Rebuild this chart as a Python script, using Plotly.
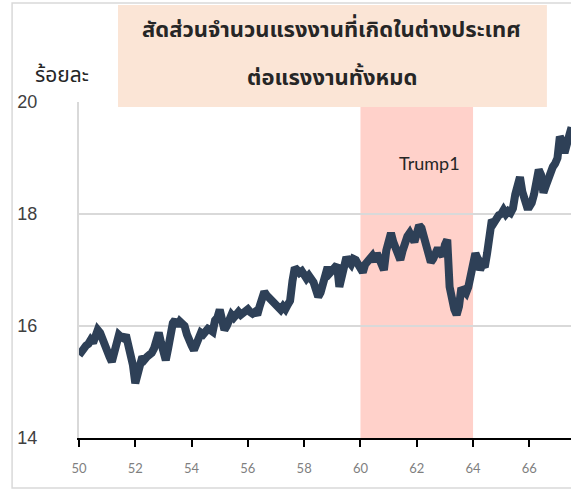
"""
Share of foreign-born workers in the labour force (Thai chart).
"""

import plotly.graph_objects as go

# monthly values, one row per (Thai) year 50..67
start_year = 50
share_by_year = [
    [15.48, 15.55, 15.60, 15.65, 15.68, 15.75, 15.70, 15.85, 15.93, 15.88, 15.75, 15.62],
    [15.55, 15.45, 15.36, 15.50, 15.65, 15.84, 15.80, 15.78, 15.84, 15.70, 15.52, 15.30],
    [14.98, 15.10, 15.30, 15.45, 15.40, 15.45, 15.48, 15.52, 15.60, 15.75, 15.88, 15.70],
    [15.50, 15.39, 15.60, 15.85, 16.05, 16.11, 16.00, 16.08, 16.05, 16.00, 15.85, 15.70],
    [15.65, 15.57, 15.70, 15.80, 15.88, 15.85, 15.90, 15.95, 15.93, 15.90, 16.10, 16.15],
    [16.29, 16.05, 15.93, 16.00, 16.15, 16.20, 16.15, 16.22, 16.25, 16.20, 16.25, 16.29],
    [16.30, 16.25, 16.22, 16.25, 16.20, 16.35, 16.45, 16.61, 16.55, 16.50, 16.46, 16.40],
    [16.35, 16.32, 16.29, 16.35, 16.30, 16.38, 16.45, 16.80, 17.04, 17.00, 16.95, 16.98],
    [16.92, 16.85, 16.90, 16.86, 16.78, 16.65, 16.52, 16.60, 16.80, 16.95, 17.05, 16.95],
    [17.00, 17.05, 17.09, 16.70, 16.90, 17.00, 17.23, 17.15, 17.10, 17.20, 17.18, 17.10],
    [17.05, 16.96, 17.10, 17.15, 17.20, 17.25, 17.15, 17.30, 17.20, 17.05, 17.00, 17.35],
    [17.55, 17.66, 17.50, 17.40, 17.25, 17.18, 17.35, 17.50, 17.60, 17.66, 17.55, 17.50],
    [17.65, 17.80, 17.75, 17.60, 17.45, 17.30, 17.14, 17.20, 17.30, 17.39, 17.30, 17.25],
    [17.45, 17.54, 16.70, 16.45, 16.30, 16.20, 16.35, 16.68, 16.62, 16.59, 16.70, 16.90],
    [17.10, 17.30, 17.20, 17.00, 17.10, 17.05, 17.30, 17.60, 17.89, 17.85, 17.95, 17.98],
    [18.00, 18.07, 18.00, 18.05, 18.02, 18.10, 18.35, 18.55, 18.66, 18.40, 18.25, 18.13],
    [18.13, 18.20, 18.35, 18.60, 18.79, 18.70, 18.38, 18.50, 18.65, 18.75, 18.84, 18.90],
    [19.00, 19.38, 19.30, 19.09, 19.20, 19.40, 19.55],
]

trump_start, trump_end = 60, 64
y_ticks = [14, 16, 18, 20]
x_ticks = list(range(50, 67, 2))

title_line1 = "สัดส่วนจำนวนแรงงานที่เกิดในต่างประเทศ"
title_line2 = "ต่อแรงงานทั้งหมด"
unit_label = "ร้อยละ"

THAI_FONT = "Tahoma, 'Noto Sans Thai', 'Noto Sans', sans-serif"

x_vals, y_vals = [], []
for i, row in enumerate(share_by_year):
    for m, v in enumerate(row):
        x_vals.append(start_year + i + m / 12)
        y_vals.append(v)

fig = go.Figure()

fig.add_vrect(
    x0=trump_start,
    x1=trump_end,
    fillcolor="#FFD1CA",
    line_width=0,
    layer="below",
)

fig.add_trace(
    go.Scatter(
        x=x_vals,
        y=y_vals,
        mode="lines",
        line={"color": "#2E4057", "width": 8},
        showlegend=False,
    )
)

# outer frame of the chart area
fig.add_shape(
    type="rect",
    xref="paper",
    yref="paper",
    x0=-0.136,
    x1=1.05,
    y0=-0.149,
    y1=1.295,
    line={"color": "#D9D9D9", "width": 1.5},
    layer="below",
)

# peach title box
fig.add_shape(
    type="rect",
    xref="paper",
    yref="paper",
    x0=0.0793,
    x1=0.951,
    y0=0.985,
    y1=1.289,
    fillcolor="#FBE5D6",
    line_width=0,
    layer="above",
)

title_font = {"family": THAI_FONT, "size": 22, "color": "#262626", "weight": "bold"}
fig.add_annotation(
    text=title_line1, xref="paper", yref="paper", x=0.514, y=1.214,
    xanchor="center", yanchor="middle", showarrow=False, font=title_font,
)
fig.add_annotation(
    text=title_line2, xref="paper", yref="paper", x=0.514, y=1.071,
    xanchor="center", yanchor="middle", showarrow=False, font=title_font,
)
fig.add_annotation(
    text=unit_label, xref="paper", yref="paper", x=-0.035, y=1.08,
    xanchor="center", yanchor="middle", showarrow=False,
    font={"family": THAI_FONT, "size": 21, "color": "#262626"},
)
fig.add_annotation(
    text="Trump1", x=62.45, y=18.91, showarrow=False,
    xanchor="center", yanchor="middle",
    font={"family": "Lato, sans-serif", "size": 18, "color": "#262626"},
)

fig.update_xaxes(
    range=[50, 67.48],
    tickvals=x_ticks,
    ticks="outside",
    ticklen=7,
    tickwidth=2,
    tickcolor="#000000",
    showline=True,
    linecolor="#000000",
    linewidth=2,
    showgrid=False,
    zeroline=False,
    ticklabelstandoff=10,
    tickfont={"family": "Lato, sans-serif", "size": 13, "color": "#7F7F7F"},
)
fig.update_yaxes(
    range=[14, 20],
    tickvals=y_ticks,
    showline=True,
    linecolor="#D9D9D9",
    linewidth=2,
    gridcolor="#D9D9D9",
    gridwidth=2,
    zeroline=False,
    ticklabelstandoff=36,
    tickfont={"family": "Liberation Sans, Arial, sans-serif", "size": 18, "color": "#404040"},
)

fig.update_layout(
    width=571,
    height=491,
    margin={"l": 79, "r": 0, "t": 102, "b": 53},
    plot_bgcolor="white",
    paper_bgcolor="white",
)

# drop the default page margin so the figure fills the window exactly
fig.write_html(
    "out.html",
    config={"displayModeBar": False},
    post_script="document.body.style.margin='0';document.body.style.overflow='hidden';",
)
